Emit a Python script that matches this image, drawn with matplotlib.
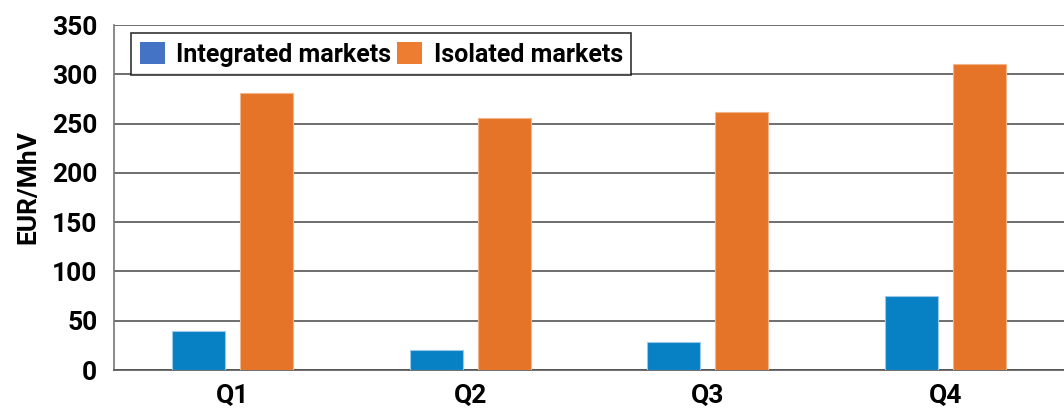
import numpy as np
import matplotlib
matplotlib.use("Agg")
import matplotlib.pyplot as plt
from matplotlib.patches import Patch

# values
quarters = ["Q1", "Q2", "Q3", "Q4"]
integrated = [40, 20, 28, 75]
isolated = [281, 256, 262, 310]
series_names = ["Integrated markets", "Isolated markets"]

plt.rcParams["font.family"] = ["Roboto", "DejaVu Sans"]
plt.rcParams["font.weight"] = "bold"

fig = plt.figure(figsize=(10.64, 4.13), dpi=100)
ax = fig.add_axes([114 / 1064, 43 / 413, 950 / 1064, 345 / 413])

x = np.arange(len(quarters))
w = 0.223
off = 0.143
ax.bar(x - off, integrated, w, color="#0780c4", edgecolor="#9cc8e6", linewidth=0.8, zorder=3)
ax.bar(x + off, isolated, w, color="#e57428", edgecolor="#f2b48a", linewidth=0.8, zorder=3)

ax.set_xlim(-0.5, len(quarters) - 0.5)
ax.set_ylim(0, 350)
ax.set_yticks(range(0, 351, 50))
ax.set_xticks(x)
ax.set_xticklabels(quarters)
ax.yaxis.grid(True, color="#555555", linewidth=1.2, zorder=0)
ax.set_axisbelow(True)

for s in ["top", "right"]:
    ax.spines[s].set_visible(False)
ax.spines["left"].set_color("#777777")
ax.spines["left"].set_linewidth(1.2)
ax.spines["bottom"].set_color("#555555")
ax.spines["bottom"].set_linewidth(1.2)
ax.tick_params(axis="both", length=0, labelsize=19)
ax.tick_params(axis="y", pad=12)
ax.tick_params(axis="x", pad=10)

ax.set_ylabel("EUR/MhV", fontsize=19, fontweight="bold")
ax.yaxis.set_label_coords(-0.078, 0.529)

handles = [Patch(facecolor="#4472c4"), Patch(facecolor="#ed7d31")]
leg = ax.legend(handles, series_names, loc="upper left", bbox_to_anchor=(17 / 950, 337 / 345),
                ncol=2, fontsize=18, frameon=True, fancybox=False, edgecolor="black",
                handlelength=1.0, handleheight=1.0, handletextpad=0.45, columnspacing=0.25,
                borderpad=0.35, borderaxespad=0)
leg.get_frame().set_linewidth(1.2)
leg.set_zorder(5)

fig.savefig("out.png", dpi=100)
